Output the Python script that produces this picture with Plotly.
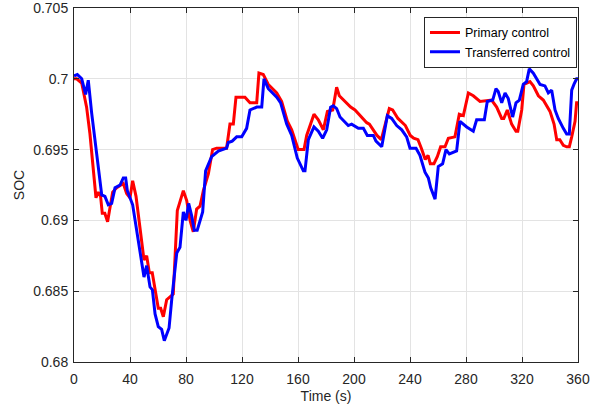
import plotly.graph_objects as go

# Primary control (red)
t_primary = [0, 1.9, 5.5, 9, 11.4, 13.8, 15.7, 17.4, 19, 20.2, 22, 24, 25.7, 27.6, 30.5, 33.3, 35.2,
             37.6, 40, 41.9, 44.3, 47.1, 50, 51.9, 53.8, 55.9, 57.9, 60.2, 61.9, 63.8, 66.2, 68.6, 70.9,
             73.8, 78.1, 80.5, 82.9, 85.2, 87.6, 90, 92.4, 96, 99, 101.9, 109, 111.4, 113.8, 115.7,
             122.1, 125.7, 130.5, 132.1, 135.2, 138.8, 144.8, 148.3, 152.4, 155.5, 160.2, 164.3, 166.2,
             171.4, 174.5, 178.1, 181, 184.8, 187.6, 189.5, 193.6, 197.6, 200.7, 204.3, 209.1, 211,
             216.4, 219.5, 225.2, 227.6, 231.4, 236.7, 240.2, 242.6, 245.7, 248.1, 250.9, 252.9, 254.5,
             257.1, 259.5, 261.9, 265, 267.4, 272.1, 275.2, 278.1, 281.7, 285.2, 290, 298.3, 301.9,
             305.5, 307, 309.5, 312.6, 315.7, 317, 319.8, 321.4, 325.7, 328.1, 331.7, 335.2, 340, 342.9,
             344.8, 347, 349.5, 351.9, 353.8, 355.5, 357.9, 359, 360]
soc_primary = [0.7, 0.7, 0.6997, 0.698, 0.6961, 0.6936, 0.6916, 0.6920, 0.6917, 0.6905, 0.6905, 0.6899,
               0.6910, 0.6920, 0.6923, 0.6925, 0.6926, 0.6919, 0.6916, 0.6928, 0.6917, 0.6895, 0.6872,
               0.6875, 0.6863, 0.6863, 0.6851, 0.6838, 0.6838, 0.6832, 0.6844, 0.6846, 0.6848, 0.6907,
               0.6921, 0.6914, 0.6900, 0.6892, 0.6908, 0.6910, 0.6921, 0.6933, 0.6950, 0.6951, 0.6951,
               0.6968, 0.6968, 0.6987, 0.6987, 0.6983, 0.6983, 0.7004, 0.7003, 0.6996, 0.6990, 0.6984,
               0.6970, 0.6964, 0.6950, 0.6950, 0.6960, 0.6975, 0.6971, 0.6964, 0.6977, 0.6978, 0.6994,
               0.6988, 0.6984, 0.6980, 0.6978, 0.6974, 0.6969, 0.6968, 0.6960, 0.6957, 0.6979, 0.6978,
               0.6972, 0.6967, 0.6960, 0.6958, 0.6957, 0.6951, 0.6943, 0.6946, 0.6940, 0.6940, 0.6945,
               0.6952, 0.6952, 0.6958, 0.6959, 0.6975, 0.6974, 0.6990, 0.6988, 0.6984, 0.6985, 0.6980,
               0.6972, 0.6972, 0.6978, 0.6968, 0.6963, 0.6963, 0.6978, 0.6996, 0.6998, 0.6995, 0.6988,
               0.6985, 0.6977, 0.6968, 0.6957, 0.6957, 0.6953, 0.6952, 0.6952, 0.6959, 0.6970, 0.6983,
               0.6983]

# Transferred control (blue)
t_transfer = [0, 2.4, 5.5, 8.3, 10.2, 12.6, 16.2, 19.8, 22.1, 24.5, 26.9, 29.3, 32.9, 35.2, 36.9, 38.1,
              41.9, 44.8, 47.6, 50, 51.9, 54.3, 56, 57.9, 60.2, 62.6, 64.5, 67.9, 69.8, 73.4, 75.7, 78.1,
              80, 81.9, 84.1, 85.9, 88, 91.9, 94, 98.3, 103.1, 109, 110.2, 113, 116.2, 119.8, 123.3,
              125.7, 130.5, 134.1, 135.7, 138.8, 144.8, 147.6, 151.9, 155.5, 159.5, 163.8, 165, 167.4,
              171.4, 174.5, 177.6, 180.5, 183.3, 185.2, 187.6, 190, 195.9, 198.3, 203.1, 206.7, 209.5,
              213.8, 215.7, 219.8, 223.8, 226.9, 230.5, 234.1, 237.6, 240, 244.3, 247.1, 250.7, 253.1,
              254.8, 257.9, 260.2, 263.3, 265.7, 268.1, 273.3, 275.7, 280.5, 285.2, 287.6, 293.1, 295.2,
              299.1, 301.4, 303, 305.5, 307.9, 310.2, 313.3, 315.7, 318.1, 320.9, 323.3, 325.2, 328.1,
              332.9, 336.4, 338.8, 341.2, 343.6, 345.9, 349.5, 351.9, 353.8, 355.5, 357.1, 359, 360]
soc_transfer = [0.7002, 0.7003, 0.7, 0.6989, 0.6999, 0.6976, 0.6947, 0.6918, 0.6917, 0.6911, 0.6912,
                0.6923, 0.6925, 0.6930, 0.6930, 0.6921, 0.6911, 0.6893, 0.6877, 0.6860, 0.6868, 0.6853,
                0.6851, 0.6834, 0.6825, 0.6823, 0.6815, 0.6824, 0.6844, 0.6877, 0.6881, 0.6906, 0.6900,
                0.6912, 0.6903, 0.6893, 0.6893, 0.6906, 0.6935, 0.6945, 0.6949, 0.6951, 0.6955, 0.6956,
                0.6959, 0.6959, 0.6965, 0.6978, 0.6980, 0.6980, 0.7000, 0.6993, 0.6987, 0.6983, 0.6968,
                0.6960, 0.6944, 0.6935, 0.6935, 0.6957, 0.6966, 0.6963, 0.6958, 0.6964, 0.6980, 0.6981,
                0.6979, 0.6973, 0.6967, 0.6968, 0.6965, 0.6965, 0.6960, 0.6960, 0.6956, 0.6952, 0.6974,
                0.6972, 0.6967, 0.6964, 0.6959, 0.6951, 0.6951, 0.6946, 0.6934, 0.6930, 0.6923, 0.6915,
                0.6938, 0.6940, 0.6950, 0.6947, 0.6949, 0.6970, 0.6966, 0.6963, 0.6971, 0.6971, 0.6984,
                0.6985, 0.6993, 0.6991, 0.6983, 0.6990, 0.6986, 0.6973, 0.6983, 0.6985, 0.6996, 0.6998,
                0.7007, 0.7004, 0.6996, 0.6995, 0.6990, 0.6992, 0.6978, 0.6972, 0.6965, 0.6961, 0.6961,
                0.6992, 0.6996, 0.7000, 0.7000]

x_ticks = [0, 40, 80, 120, 160, 200, 240, 280, 320, 360]
y_ticks = [0.68, 0.685, 0.69, 0.695, 0.7, 0.705]
y_tick_labels = ["0.68", "0.685", "0.69", "0.695", "0.7", "0.705"]

font_family = "Liberation Sans, Arial, sans-serif"
text_color = "#262626"

fig = go.Figure()
fig.add_trace(go.Scatter(x=t_primary, y=soc_primary, mode="lines", name="Primary control",
                         line=dict(color="#ff0000", width=3)))
fig.add_trace(go.Scatter(x=t_transfer, y=soc_transfer, mode="lines", name="Transferred control",
                         line=dict(color="#0000ff", width=3)))

axis_common = dict(showline=True, linecolor="#262626", linewidth=1, mirror="ticks",
                   ticks="inside", ticklen=5, tickcolor="#262626",
                   showgrid=True, gridcolor="#e3e3e3", gridwidth=1, zeroline=False,
                   ticklabeloverflow="allow", automargin=False,
                   tickfont=dict(family=font_family, size=14, color=text_color))

fig.update_xaxes(range=[0, 360], tickvals=x_ticks, ticklabelstandoff=4,
                 title=dict(text="Time (s)", font=dict(family=font_family, size=14, color=text_color),
                            standoff=5),
                 **axis_common)
fig.update_yaxes(range=[0.68, 0.705], tickvals=y_ticks, ticktext=y_tick_labels, ticklabelstandoff=2,
                 title=dict(text="SOC", font=dict(family=font_family, size=14, color=text_color),
                            standoff=5),
                 **axis_common)

fig.update_layout(
    width=606, height=413,
    margin=dict(l=74, r=28, t=8, b=51, autoexpand=False),
    paper_bgcolor="white", plot_bgcolor="white",
    showlegend=True,
    legend=dict(x=0.998, y=0.975, xanchor="right", yanchor="top",
                bgcolor="white", bordercolor="#262626", borderwidth=1,
                font=dict(family=font_family, size=12.5, color="#000000"),
                tracegroupgap=0, itemwidth=30),
)

fig.write_html("out.html")
